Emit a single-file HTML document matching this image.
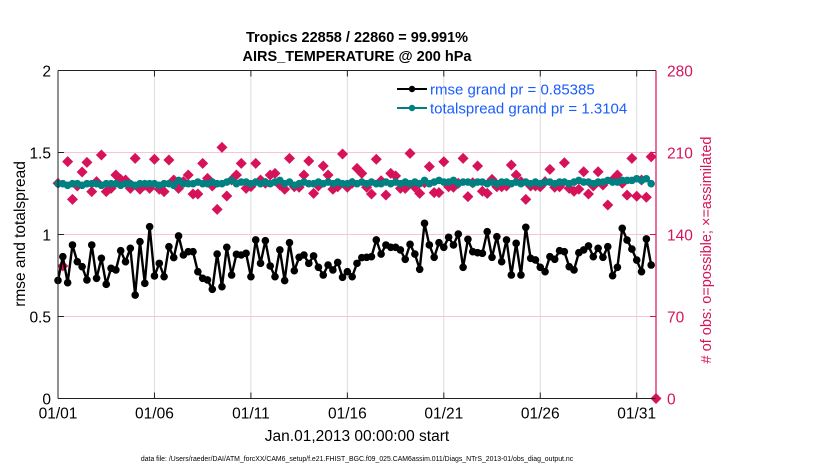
<!DOCTYPE html>
<html><head><meta charset="utf-8"><style>
html,body{margin:0;padding:0;background:#fff;}
svg{display:block;font-family:"Liberation Sans",Arial,sans-serif;}
</style></head><body>
<svg id="chart" width="830" height="470" viewBox="0 0 830 470" xmlns="http://www.w3.org/2000/svg">
<text x="357" y="42" text-anchor="middle" font-size="14.5" font-weight="bold">Tropics 22858 / 22860 = 99.991%</text>
<text x="357" y="61" text-anchor="middle" font-size="14.5" font-weight="bold">AIRS_TEMPERATURE @ 200 hPa</text>
<g id="grid"></g>
<g id="series"></g>
<g id="axes"></g>
<text transform="translate(25,234) rotate(-90)" text-anchor="middle" font-size="15.5">rmse and totalspread</text>
<text transform="translate(711,250) rotate(-90)" text-anchor="middle" font-size="14.5" fill="#d6135a"># of obs: o=possible; ×=assimilated</text>
<text x="357" y="441" text-anchor="middle" font-size="15.5">Jan.01,2013 00:00:00 start</text>
<text x="357" y="461" text-anchor="middle" font-size="6.9">data file: /Users/raeder/DAI/ATM_forcXX/CAM6_setup/f.e21.FHIST_BGC.f09_025.CAM6assim.011/Diags_NTrS_2013-01/obs_diag_output.nc</text>
<g>
  <line x1="397" y1="89" x2="427" y2="89" stroke="#000" stroke-width="2"/>
  <circle cx="412" cy="89" r="3.2" fill="#000"/>
  <text x="430" y="94.5" font-size="15" fill="#1a5cff">rmse grand pr = 0.85385</text>
  <line x1="397" y1="108" x2="427" y2="108" stroke="#008080" stroke-width="2"/>
  <circle cx="412" cy="108" r="3.2" fill="#008080"/>
  <text x="430" y="113.5" font-size="15" fill="#1a5cff">totalspread grand pr = 1.3104</text>
</g>
</svg>
<script>
const xTickLabels = ["01/01","01/06","01/11","01/16","01/21","01/26","01/31"];
const xTickDays = [0,5,10,15,20,25,30];
const yTicks = [0,0.5,1,1.5,2];
const yTickLabels = ["0","0.5","1","1.5","2"];
const y2Ticks = [0,70,140,210,280];
const rmse = [0.72,0.865,0.706,0.936,0.834,0.804,0.723,0.936,0.733,0.855,0.696,0.794,0.784,0.901,0.834,0.916,0.631,0.956,0.702,1.048,0.747,0.824,0.743,0.926,0.859,0.991,0.875,0.895,0.895,0.773,0.733,0.723,0.666,0.881,0.682,0.922,0.753,0.879,0.875,0.885,0.743,0.967,
0.824,0.962,0.808,0.743,0.906,0.719,0.950,0.779,0.861,0.875,0.824,0.869,0.800,0.753,0.814,0.784,0.830,0.739,0.773,0.743,0.824,0.859,0.861,0.865,0.967,0.881,0.936,0.922,0.922,0.906,0.849,0.940,0.881,0.788,1.068,0.936,0.861,0.950,0.922,
0.983,0.936,1.003,0.800,0.971,0.895,0.889,0.885,1.017,0.861,0.987,0.834,0.967,0.753,0.946,0.753,1.044,0.855,0.845,0.800,0.773,0.865,0.849,0.901,0.895,0.804,0.784,0.889,0.906,0.930,0.865,0.916,0.861,0.926,0.749,0.800,
1.038,0.966,0.911,0.844,0.773,0.973,0.814];
const spread = [1.31,1.31,1.30,1.31,1.31,1.30,1.31,1.31,1.31,1.30,1.31,1.31,1.31,1.30,1.31,1.31,1.30,1.31,1.31,1.31,1.31,1.30,1.31,1.31,1.30,1.33,1.31,1.31,1.31,1.32,1.31,1.31,1.32,1.31,1.31,1.32,1.33,1.31,1.32,1.32,1.31,1.32,
1.31,1.32,1.31,1.32,1.33,1.31,1.32,1.30,1.31,1.32,1.31,1.31,1.32,1.31,1.32,1.31,1.32,1.31,1.31,1.32,1.31,1.32,1.31,1.32,1.31,1.31,1.32,1.31,1.32,1.31,1.32,1.31,1.32,1.31,1.33,1.31,1.32,1.33,1.32,
1.32,1.33,1.31,1.32,1.32,1.31,1.32,1.32,1.31,1.32,1.31,1.32,1.32,1.31,1.32,1.31,1.32,1.31,1.32,1.31,1.32,1.32,1.31,1.32,1.32,1.31,1.32,1.33,1.32,1.32,1.31,1.32,1.32,1.33,1.32,1.32,
1.33,1.33,1.33,1.34,1.33,1.34,1.31];
const obsCount = [183.7,113.1,202.2,170,181.4,193.4,201.6,176.6,185.1,207.9,176.6,179.4,190.8,187.1,186.5,179.4,205,178.6,182.2,179.4,204.2,178.6,176.6,203.6,186.5,179.4,185.1,190.8,174.6,174.6,200.7,187.9,181.4,161.4,214.4,172.9,186.5,190.8,200.7,179.4,180.9,200.7,
186.5,183.7,190.8,192.2,182.3,178.6,205,180.8,180.3,190.8,202.7,175.1,181.4,198.5,190.8,178.6,180.8,208.7,180.3,183.7,196.5,192.2,180.3,174.6,204.2,185.9,173.7,192.2,190,179.4,179.4,209.3,180.3,175.1,184.2,197.9,175.7,175.7,202.1,
180.8,180.3,183.7,205,172.3,184.2,198.5,176.9,175.1,187.1,180.8,180.8,181.4,199.3,190.8,185.1,170,181.4,181.4,180.8,185.1,195.6,180.3,180.8,201.3,179.4,176.9,178.6,193.6,174.6,181.4,193.6,182.3,165.2,186.5,190.8,
183.7,173.6,205,172.7,186.5,171.8,206.4,0];
const stepDays = 0.25;

const L=58,R=656,T=70.5,B=398.5,NS="http://www.w3.org/2000/svg";
const xS=d=>L+(d/31)*(R-L);
const yS=v=>B-(v/2)*(B-T);
const y2S=v=>B-(v/280)*(B-T);
function mk(tag,attrs,parent){const e=document.createElementNS(NS,tag);for(const k in attrs)e.setAttribute(k,attrs[k]);parent.appendChild(e);return e;}
const grid=document.getElementById('grid'),ser=document.getElementById('series'),ax=document.getElementById('axes');
const crim="#d6135a";
xTickDays.forEach((d,i)=>{
  const g=mk('line',{x1:xS(d),x2:xS(d),y1:T,y2:B,stroke:"#dcdcdc","stroke-width":1},grid);
  
  
  mk('line',{x1:xS(d),x2:xS(d),y1:B,y2:B-6,stroke:"#222","stroke-width":1},ax);
  mk('line',{x1:xS(d),x2:xS(d),y1:T,y2:T+6,stroke:"#222","stroke-width":1},ax);
  const t=mk('text',{x:xS(d),y:B+20,"text-anchor":"middle","font-size":"15.5"},ax);
  t.textContent=xTickLabels[i];
  
  
});
yTicks.forEach((v,i)=>{
  if(v>0&&v<2){const g=mk('line',{x1:L,x2:R,y1:yS(v),y2:yS(v),stroke:"#f7c6d6","stroke-width":1},grid);
  
  }
  mk('line',{x1:L,x2:L+6,y1:yS(v),y2:yS(v),stroke:"#222","stroke-width":1},ax);
  const t=mk('text',{x:L-7,y:yS(v)+6,"text-anchor":"end","font-size":"15.5"},ax);
  t.textContent=yTickLabels[i];
  
  
});
y2Ticks.forEach(v=>{
  mk('line',{x1:R-6,x2:R,y1:y2S(v),y2:y2S(v),stroke:crim,"stroke-width":1},ax);
  const t=mk('text',{x:R+11,y:y2S(v)+6,"font-size":"15.5",fill:crim},ax);
  t.textContent=String(v);
  
  
});
mk('line',{x1:L,x2:R,y1:T,y2:T,stroke:"#222","stroke-width":1},ax);
mk('line',{x1:L,x2:R,y1:B,y2:B,stroke:"#222","stroke-width":1},ax);
mk('line',{x1:L,x2:L,y1:T,y2:B,stroke:"#222","stroke-width":1},ax);
mk('line',{x1:R,x2:R,y1:T,y2:B,stroke:crim,"stroke-width":1.2},ax);
obsCount.forEach((c,i)=>{
  const x=xS(i*stepDays),y=y2S(c),s=5.5;
  const p=mk('polygon',{points:`${x},${y-s} ${x+s},${y} ${x},${y+s} ${x-s},${y}`,fill:crim},ser);
  
  
});
function line(arr,color,name){
  const pts=arr.map((v,i)=>xS(i*stepDays)+","+yS(v)).join(" ");
  const pl=mk('polyline',{points:pts,fill:"none",stroke:color,"stroke-width":2.4,"stroke-linejoin":"round"},ser);
  
  
  arr.forEach((v,i)=>{
    const c=mk('circle',{cx:xS(i*stepDays),cy:yS(v),r:3.8,fill:color},ser);
    
    
  });
}
line(spread,"#008080","totalspread");
line(rmse,"#000","rmse");
</script>
</body></html>
